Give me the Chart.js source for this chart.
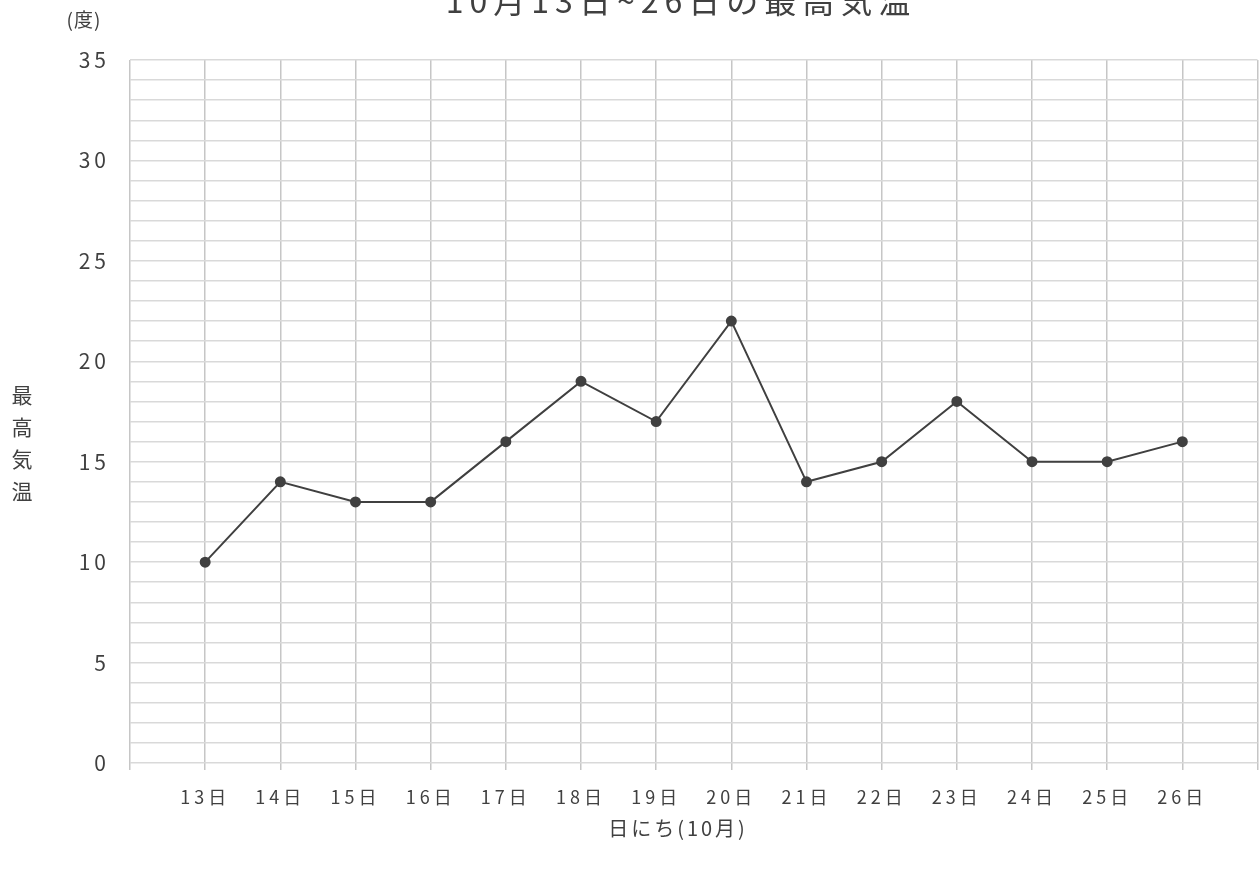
<!DOCTYPE html>
<html lang="ja">
<head>
  <meta charset="UTF-8" />
  <title>10月13日~26日の最高気温</title>
  <script src="https://cdn.jsdelivr.net/npm/chart.js"></script>
  <style>
    html, body { margin: 0; padding: 0; background: #fff; overflow: hidden; }
    #wrap { width: 1264px; height: 872px; position: relative; }
  </style>
</head>
<body>
  <div id="wrap"><canvas id="tempChart"></canvas></div>

  <script>
    // 10月の日にち と 最高気温(度)
    const days = [13, 14, 15, 16, 17, 18, 19, 20, 21, 22, 23, 24, 25, 26];
    const maxTemps = [10, 14, 13, 13, 16, 19, 17, 22, 14, 15, 18, 15, 15, 16];
    const yTicks = [0, 5, 10, 15, 20, 25, 30, 35];

    const titleText = '10月13日~26日の最高気温';
    const xTitle = '日にち(10月)';
    const yUnit = '(度)';
    const yTitle = ['最', '高', '気', '温'];

    const textColor = '#404040';
    const fontFam = '"Noto Sans CJK JP", "Noto Sans", sans-serif';

    // texts drawn around the plot (title, axis captions)
    const captions = {
      id: 'captions',
      beforeDraw(chart) {
        chart.ctx.letterSpacing = '4px';
      },
      afterDraw(chart) {
        const ctx = chart.ctx;
        ctx.save();
        ctx.fillStyle = textColor;
        ctx.textBaseline = 'middle';
        ctx.textAlign = 'center';

        ctx.letterSpacing = '6px';
        ctx.font = '32px ' + fontFam;
        ctx.fillText(titleText, 681, 1);

        ctx.letterSpacing = '3px';
        ctx.font = '20px ' + fontFam;
        ctx.fillText(xTitle, 678, 828);

        ctx.letterSpacing = '1px';
        ctx.font = '19px ' + fontFam;
        ctx.fillText(yUnit, 84, 20);

        ctx.letterSpacing = '0px';
        ctx.font = '21px ' + fontFam;
        yTitle.forEach((ch, i) => ctx.fillText(ch, 22, 395 + i * 32));
        ctx.restore();
      }
    };

    new Chart(document.getElementById('tempChart'), {
      type: 'line',
      data: {
        datasets: [{
          label: '最高気温',
          data: days.map((d, i) => ({ x: d, y: maxTemps[i] })),
          borderColor: '#404040',
          backgroundColor: '#404040',
          borderWidth: 2,
          pointRadius: 4.5,
          pointHoverRadius: 4.5,
          tension: 0
        }]
      },
      options: {
        responsive: true,
        maintainAspectRatio: false,
        animation: false,
        layout: { padding: { top: 60, right: 0, left: 0, bottom: 0 } },
        plugins: {
          legend: { display: false },
          title: { display: false },
          tooltip: { enabled: false }
        },
        scales: {
          x: {
            type: 'linear',
            min: days[0] - 1,
            max: days[days.length - 1] + 1,
            afterFit: s => {
              s.height = 109;
              s.paddingLeft = 0;
              s.paddingRight = 0;
            },
            afterBuildTicks: s => {
              s.ticks = [];
              for (let v = s.min; v <= s.max; v++) s.ticks.push({ value: v });
            },
            border: { display: false },
            grid: { color: '#c6c6c6', lineWidth: 1.5, tickLength: 7, drawTicks: true },
            ticks: {
              autoSkip: false,
              maxRotation: 0,
              padding: 16,
              color: textColor,
              font: { family: fontFam, size: 18 },
              callback: v => days.includes(v) ? v + '日' : ''
            }
          },
          y: {
            min: yTicks[0],
            max: yTicks[yTicks.length - 1],
            afterFit: s => { s.width = 130; },
            border: { display: false },
            grid: { color: '#d9d9d9', lineWidth: 1.5, drawTicks: false },
            ticks: {
              stepSize: 1,
              autoSkip: false,
              padding: 20,
              color: textColor,
              font: { family: fontFam, size: 21 },
              callback: v => yTicks.includes(v) ? v : ''
            }
          }
        }
      },
      plugins: [captions]
    });
  </script>
</body>
</html>
